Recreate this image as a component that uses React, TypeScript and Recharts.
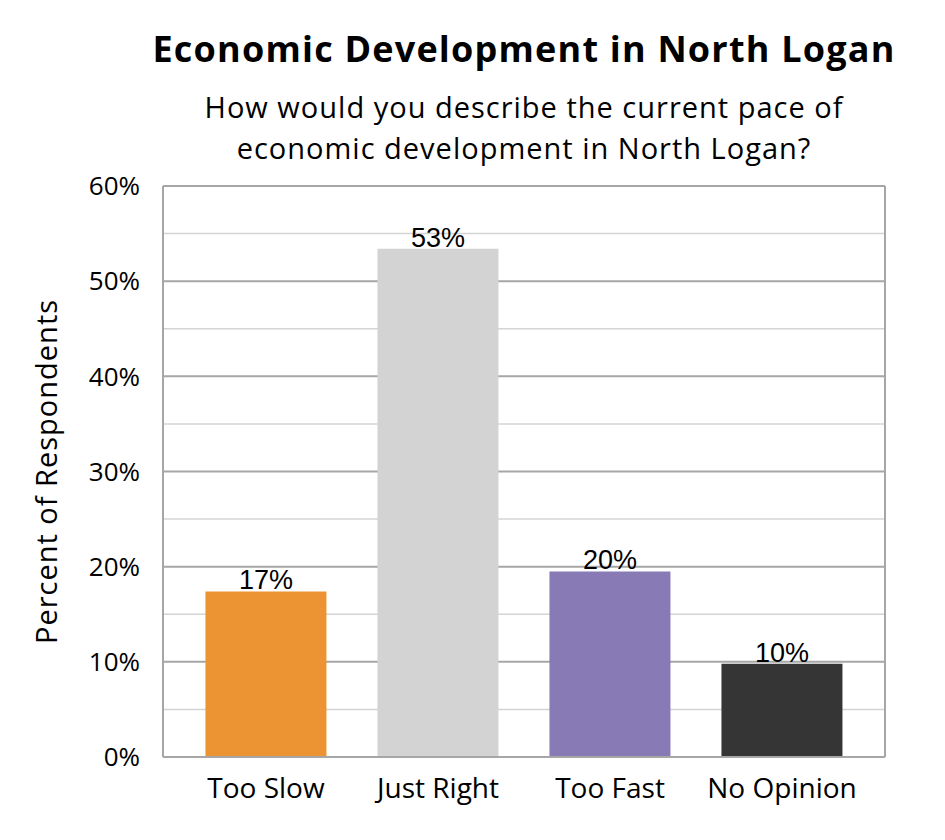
import { BarChart, Bar, Cell, XAxis, YAxis, CartesianGrid, LabelList } from "recharts";

const categories = ["Too Slow", "Just Right", "Too Fast", "No Opinion"];
const values = [17.4, 53.4, 19.5, 9.8];
const colors = ["#EC9433", "#D3D3D3", "#877AB5", "#353535"];
const yTicks = [0, 10, 20, 30, 40, 50, 60];
const minorTicks = [5, 15, 25, 35, 45, 55];

const data = categories.map((name, i) => ({ name, value: values[i] }));

const FONT = "'Open Sans', Lato, sans-serif";

export default function App() {
    return (
        <div style={{ position: "relative", width: 930, height: 820, fontFamily: FONT, color: "#000" }}>
            <div
                style={{
                    position: "absolute",
                    top: 19,
                    left: 91,
                    width: 850,
                    textAlign: "center",
                    fontSize: 36,
                    fontWeight: 700,
                    letterSpacing: 1.2,
                    lineHeight: "44px",
                }}
            >
                Economic Development in North Logan
            </div>
            <div
                style={{
                    position: "absolute",
                    top: 78,
                    left: 91,
                    width: 850,
                    textAlign: "center",
                    fontSize: 29,
                    letterSpacing: 1,
                    lineHeight: "41px",
                }}
            >
                How would you describe the current pace of
                <br />
                economic development in North Logan?
            </div>
            <div style={{ position: "absolute", top: 0, left: 0 }}>
                <BarChart
                    width={930}
                    height={820}
                    data={data}
                    margin={{ top: 178, right: 53, bottom: 41, left: 55 }}
                    barCategoryGap="14.8%"
                >
                    <CartesianGrid
                        stroke="#D4D4D4"
                        strokeWidth={1.5}
                        vertical={false}
                        horizontalValues={minorTicks}
                    />
                    <CartesianGrid
                        stroke="#A6A6A6"
                        strokeWidth={2}
                        vertical={true}
                        horizontalValues={yTicks}
                        verticalCoordinatesGenerator={({ offset }: any) => [
                            offset.left,
                            offset.left + offset.width,
                        ]}
                    />
                    <XAxis
                        dataKey="name"
                        padding={{ left: 17, right: 17 }}
                        axisLine={{ stroke: "#A6A6A6", strokeWidth: 2 }}
                        tickLine={false}
                        tick={{ fill: "#000", fontSize: 28, fontFamily: FONT }}
                        tickMargin={15}
                    />
                    <YAxis
                        domain={[0, 60]}
                        ticks={yTicks}
                        width={100}
                        axisLine={{ stroke: "#A6A6A6", strokeWidth: 2 }}
                        tickLine={false}
                        tickFormatter={(v) => `${v}%`}
                        tick={{ fill: "#000", fontSize: 26, fontFamily: FONT }}
                        tickMargin={17}
                        label={{
                            value: "Percent of Respondents",
                            angle: -90,
                            position: "insideLeft",
                            dx: -21,
                            style: {
                                textAnchor: "middle",
                                fontSize: 29,
                                letterSpacing: 1,
                                fill: "#000",
                                fontFamily: FONT,
                            },
                        }}
                    />
                    <Bar dataKey="value" isAnimationActive={false}>
                        {data.map((d, i) => (
                            <Cell key={d.name} fill={colors[i]} />
                        ))}
                        <LabelList
                            dataKey="value"
                            position="top"
                            offset={2}
                            formatter={(v: any) => `${Math.round(v)}%`}
                            style={{ fill: "#000", fontSize: 27, fontFamily: "'Liberation Sans', Arial, sans-serif" }}
                        />
                    </Bar>
                </BarChart>
            </div>
        </div>
    );
}
